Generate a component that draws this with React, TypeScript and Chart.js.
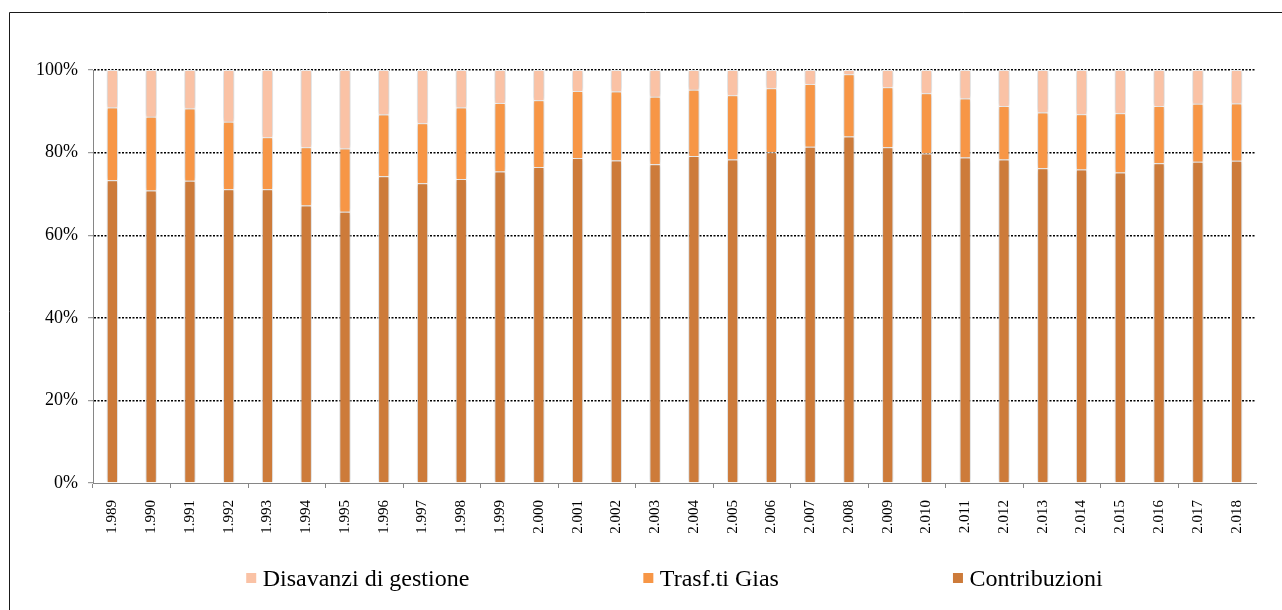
import React, { useEffect, useRef } from "react";
import { Chart, registerables } from "chart.js";

Chart.register(...registerables);

const years: string[] = [
  "1.989", "1.990", "1.991", "1.992", "1.993", "1.994", "1.995", "1.996", "1.997", "1.998",
  "1.999", "2.000", "2.001", "2.002", "2.003", "2.004", "2.005", "2.006", "2.007", "2.008",
  "2.009", "2.010", "2.011", "2.012", "2.013", "2.014", "2.015", "2.016", "2.017", "2.018",
];

const contribuzioni: number[] = [
  73.3, 70.8, 73.2, 71.1, 71.1, 67.2, 65.7, 74.3, 72.6, 73.6,
  75.4, 76.5, 78.7, 78.1, 77.2, 79.2, 78.3, 80.1, 81.4, 83.9,
  81.3, 79.8, 78.8, 78.3, 76.2, 75.9, 75.2, 77.4, 77.8, 78.0,
];

const trasfGias: number[] = [
  17.6, 17.9, 17.5, 16.4, 12.6, 14.1, 15.3, 14.9, 14.5, 17.3,
  16.6, 16.2, 16.2, 16.7, 16.3, 16.0, 15.6, 15.5, 15.2, 15.1,
  14.5, 14.6, 14.3, 13.0, 13.5, 13.4, 14.3, 13.9, 14.0, 13.9,
];

const disavanzi: number[] = [
  9.1, 11.3, 9.3, 12.5, 16.3, 18.7, 19.0, 10.8, 12.9, 9.1,
  8.0, 7.3, 5.1, 5.2, 6.5, 4.8, 6.1, 4.4, 3.4, 1.0,
  4.2, 5.6, 6.9, 8.7, 10.3, 10.7, 10.5, 8.7, 8.2, 8.1,
];

const yTicks: number[] = [0, 20, 40, 60, 80, 100];

const W = 1282;
const H = 610;
const SERIF = "'Liberation Serif', 'Times New Roman', serif";

const framePlugin = {
  id: "frame",
  beforeDraw(chart: any) {
    const ctx = chart.ctx;
    ctx.save();
    ctx.fillStyle = "#fff";
    ctx.fillRect(0, 0, chart.width, chart.height);
    ctx.strokeStyle = "#1a1a1a";
    ctx.lineWidth = 1;
    ctx.beginPath();
    ctx.moveTo(9.5, chart.height);
    ctx.lineTo(9.5, 12.5);
    ctx.lineTo(chart.width, 12.5);
    ctx.stroke();
    ctx.restore();
  },
};

const shadowPlugin = {
  id: "barShadow",
  beforeDatasetsDraw(chart: any) {
    const ctx = chart.ctx;
    ctx.save();
    ctx.shadowColor = "rgba(0,0,0,0.28)";
    ctx.shadowBlur = 4;
    ctx.shadowOffsetX = 0;
    ctx.shadowOffsetY = 0;
  },
  afterDatasetsDraw(chart: any) {
    chart.ctx.restore();
  },
};

// Legend drawn in reverse dataset order, centred under the plot area, one row
const legendPlugin = {
  id: "customLegend",
  afterDraw(chart: any) {
    const ctx = chart.ctx;
    const items = chart.data.datasets
      .map((d: any) => ({ text: d.label as string, color: d.backgroundColor as string }))
      .reverse();
    const fontSize = 24;
    const box = 10;
    const boxGap = 6.5;
    const itemGap = 174;
    const centerX = (chart.chartArea.left + chart.chartArea.right) / 2;
    const baseline = 586;
    ctx.save();
    ctx.font = `${fontSize}px ${SERIF}`;
    const widths = items.map((it: any) => box + boxGap + ctx.measureText(it.text).width);
    const total = widths.reduce((a: number, b: number) => a + b, 0) + itemGap * (items.length - 1);
    let x = centerX - total / 2;
    items.forEach((it: any, i: number) => {
      ctx.fillStyle = it.color;
      ctx.fillRect(x, baseline - 13, box, box);
      ctx.fillStyle = "#000";
      ctx.textBaseline = "alphabetic";
      ctx.textAlign = "left";
      ctx.fillText(it.text, x + box + boxGap, baseline);
      x += widths[i] + itemGap;
    });
    ctx.restore();
  },
};

export default function App() {
  const ref = useRef<HTMLCanvasElement | null>(null);

  useEffect(() => {
    if (!ref.current) return;
    const chart = new Chart(ref.current, {
      type: "bar",
      data: {
        labels: years,
        datasets: [
          {
            label: "Contribuzioni",
            data: contribuzioni,
            backgroundColor: "#CD7B3A",
            borderColor: "#ffffff",
            borderWidth: 1,
          },
          {
            label: "Trasf.ti Gias",
            data: trasfGias,
            backgroundColor: "#F79646",
            borderColor: "#ffffff",
            borderWidth: 1,
          },
          {
            label: "Disavanzi di gestione",
            data: disavanzi,
            backgroundColor: "#FAC2A5",
            borderColor: "#ffffff",
            borderWidth: 1,
          },
        ],
      },
      options: {
        animation: false,
        responsive: false,
        maintainAspectRatio: false,
        devicePixelRatio: 1,
        datasets: {
          bar: { categoryPercentage: 1, barPercentage: 0.29 },
        },
        layout: { padding: { left: 0, right: 26, top: 70, bottom: 0 } },
        plugins: {
          tooltip: { enabled: false },
          legend: { display: false },
        },
        scales: {
          x: {
            stacked: true,
            offset: true,
            grid: {
              display: true,
              drawOnChartArea: false,
              drawTicks: true,
              tickLength: 5,
              tickColor: (c: any) => (c.index % 2 === 0 ? "#868686" : "rgba(0,0,0,0)"),
              offset: true,
            },
            border: { display: true, color: "#868686", width: 1 },
            ticks: {
              autoSkip: false,
              minRotation: 90,
              maxRotation: 90,
              padding: 12,
              color: "#000",
              font: { family: SERIF, size: 15 },
            },
            afterFit: (scale: any) => {
              scale.height = H - 483;
            },
          },
          y: {
            stacked: true,
            min: 0,
            max: 100,
            afterBuildTicks: (scale: any) => {
              scale.ticks = yTicks.map((v) => ({ value: v }));
            },
            grid: {
              color: (c: any) => (c.tick && c.tick.value === 0 ? "rgba(0,0,0,0)" : "#000"),
              lineWidth: 1.4,
              tickLength: 5,
              tickColor: "#868686",
              tickWidth: 1,
            },
            border: { display: true, color: "#868686", width: 1, dash: [2, 1.5] },
            ticks: {
              padding: 10,
              color: "#000",
              font: { family: SERIF, size: 18 },
              callback: (v: any) => `${v}%`,
            },
            afterFit: (scale: any) => {
              scale.width = 93;
            },
          },
        },
      },
      plugins: [framePlugin, shadowPlugin, legendPlugin],
    });
    return () => chart.destroy();
  }, []);

  return (
    <>
      <style>{"html,body{margin:0;padding:0;background:#fff;overflow:hidden}"}</style>
      <canvas ref={ref} width={W} height={H} style={{ display: "block", width: W, height: H }} />
    </>
  );
}
